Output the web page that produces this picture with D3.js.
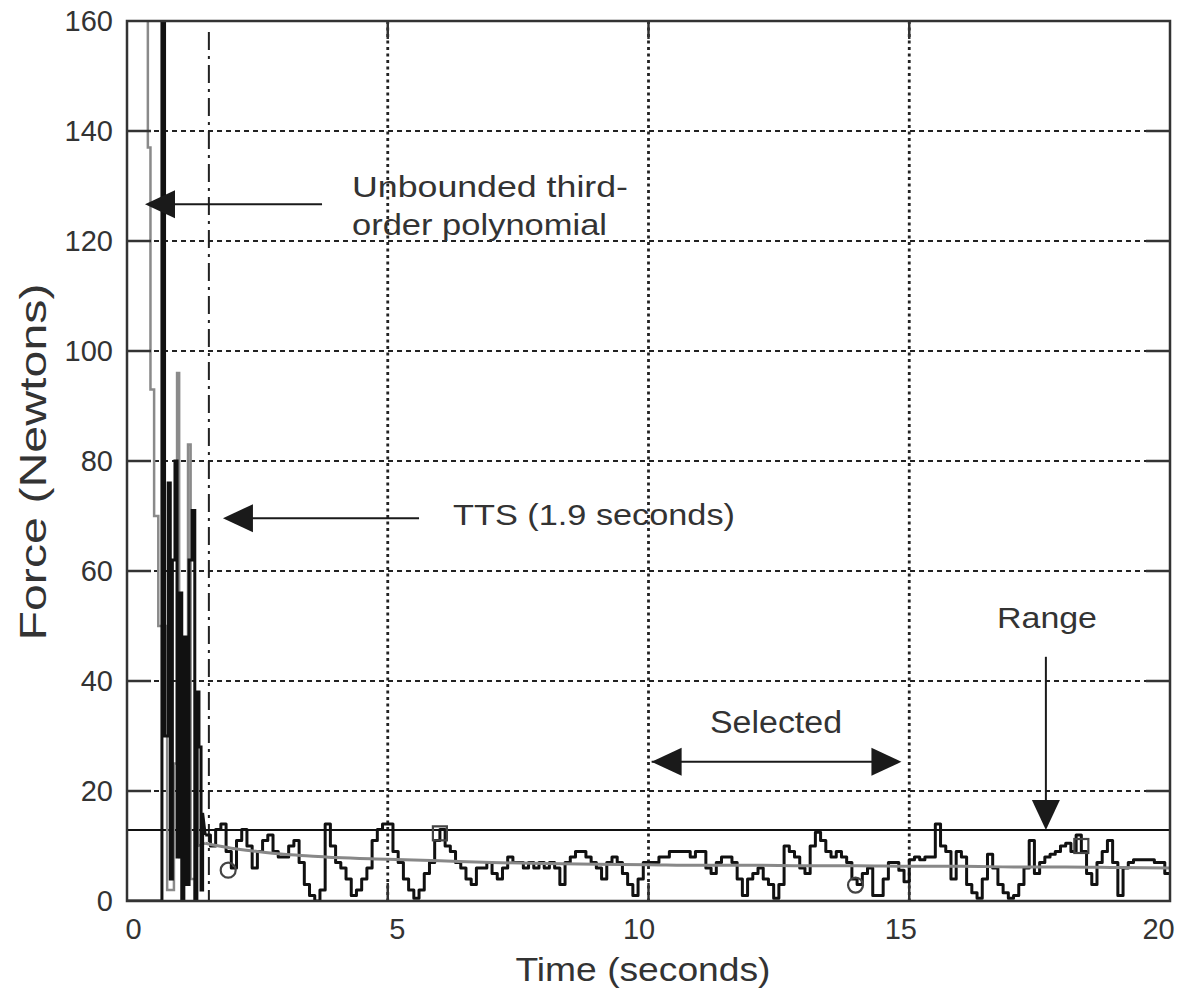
<!DOCTYPE html>
<html><head><meta charset="utf-8">
<script src="https://cdn.jsdelivr.net/npm/d3@7"></script>
<style>
html,body{margin:0;padding:0;background:#fff;}
text{font-family:"Liberation Sans",Arial,sans-serif;fill:#333;}
</style></head>
<body><svg id="chart" width="1185" height="997"></svg>
<script>
// ---------- data ----------
const xTicks = [0, 5, 10, 15, 20];
const yTicks = [0, 20, 40, 60, 80, 100, 120, 140, 160];

// early transient, black trace (s, N)
const earlyBlackTime  = [0, 0.62, 0.67, 0.67, 0.72, 0.72, 0.79, 0.79, 0.83, 0.83, 0.87, 0.87, 0.92, 0.92, 0.96, 0.96, 1.00, 1.00, 1.05, 1.05, 1.09, 1.09, 1.14, 1.14, 1.19, 1.19, 1.25, 1.25, 1.30, 1.30, 1.34, 1.34, 1.38, 1.38, 1.42, 1.42, 1.45, 1.45, 1.5];
const earlyBlackForce = [0, 0, 0, 175, 175, 30, 30, 76, 76, 4, 4, 62, 62, 80, 80, 8, 8, 56, 56, 0, 0, 48, 48, 3, 3, 62, 62, 71, 71, 0, 0, 38, 38, 28, 28, 2, 2, 16, 12];

// early transient, grey trace (s, N)
const earlyGreyTime  = [0.40, 0.40, 0.45, 0.45, 0.52, 0.52, 0.60, 0.60, 0.77, 0.77, 0.90, 0.90, 0.96, 0.96, 1.00, 1.00, 1.12, 1.12, 1.17, 1.17, 1.22, 1.22, 1.32, 1.32, 1.36, 1.36, 1.5];
const earlyGreyForce = [175, 137, 137, 93, 93, 70, 70, 50, 50, 2, 2, 25, 25, 96, 96, 8, 8, 30, 30, 83, 83, 4, 4, 31, 31, 10, 10.5];

// measured force after the transient, sampled every 0.1 s from 1.5 s to 20.0 s
const sampleStart = 1.5, sampleStep = 0.1;
const force = [
  12,10,13,14,9,
  6,11,13,10,6,9,11,12,9,8,
  8,10,11,7,3,1,0,2,14,10,
  7,6,4,1,2,4,6,11,13,14,
  14,9,7,4,2,0.5,2,5,7,11,
  13,10,9,7,6,4,3,6,6,7,
  5,4,6,8,7,7,6,7,6,7,
  6,7,6,3,7,8,9,9,8,7,
  6,4,7,8,7,5,3,1,4,7,
  7,7,8,8,9,9,9,9,8,9,
  9,6,5,7,8,8,7,4,1,4,
  5,6,4,3,0.5,3,10,9,8,6,
  5,10,12.5,11,9,8,9,8,7,4,
  3,5,6,1,1,4,7,7,5.6,3.5,
  7.5,8,7.5,8,8,14,10,9,4,9,
  8,3,1.5,0.5,4,8.5,6,3,1.5,0.5,
  1,3,6,11,5,7,8,8.5,9,10,
  10.5,9,12,9,5,3,7,9,11,7,
  1,6,7,7.5,7.5,7.5,7.5,7,7,5,
  5
];

// fitted (polynomial) curve, grey
const fitTime  = [1.5, 2, 2.5, 3, 3.5, 4, 5, 6, 7, 8, 9, 10, 11, 12, 13, 14, 15, 16, 17, 18, 19, 20];
const fitForce = [10.5, 9.6, 9.0, 8.5, 8.2, 7.9, 7.6, 7.3, 7.0, 6.8, 6.7, 6.6, 6.5, 6.5, 6.4, 6.4, 6.3, 6.3, 6.2, 6.2, 6.1, 6.0];

const rangeLevel = 12.9;   // horizontal range line
const ttsTime = 1.57;      // dash-dot TTS marker

const circleMarks = [[1.94, 5.6], [13.97, 2.9]];
const squareMarks = [[6.0, 12.3], [18.3, 10.0]];

// annotations: [x, y] in data units
const arrowPoly  = {from: [3.74, 126.7], to: [0.345, 126.7]};
const arrowTTS   = {from: [5.6, 69.6],   to: [1.84, 69.6]};
const arrowSel   = {a: [10.06, 25.3], b: [14.85, 25.3]};
const arrowRange = {from: [17.62, 44.4], to: [17.62, 12.9]};

// ---------- drawing ----------
const svg = d3.select("#chart");
const L = 127, R = 1170, T = 21, B = 901;
const x = d3.scaleLinear().domain([0, 20]).range([L, R]);
const y = d3.scaleLinear().domain([0, 160]).range([B, T]);

svg.append("defs").append("clipPath").attr("id", "clip")
  .append("rect").attr("x", L).attr("y", T).attr("width", R - L).attr("height", B - T);

const gridCol = "#222";
// horizontal grid
svg.append("g").selectAll("line").data(yTicks.slice(1, -1)).join("line")
  .attr("x1", L).attr("x2", R).attr("y1", d => y(d)).attr("y2", d => y(d))
  .attr("stroke", gridCol).attr("stroke-width", 2.2).attr("stroke-dasharray", "5,4");
// vertical grid
svg.append("g").selectAll("line").data(xTicks.slice(1, -1)).join("line")
  .attr("x1", d => x(d)).attr("x2", d => x(d)).attr("y1", T).attr("y2", B)
  .attr("stroke", gridCol).attr("stroke-width", 2.8).attr("stroke-dasharray", "3,3.5");

const plot = svg.append("g").attr("clip-path", "url(#clip)");

// TTS dash-dot line
plot.append("line").attr("x1", x(ttsTime)).attr("x2", x(ttsTime)).attr("y1", y(158)).attr("y2", B)
  .attr("stroke", "#222").attr("stroke-width", 2).attr("stroke-dasharray", "18,6,3,6");

// range line
plot.append("line").attr("x1", L).attr("x2", R).attr("y1", y(rangeLevel)).attr("y2", y(rangeLevel))
  .attr("stroke", "#111").attr("stroke-width", 2);

// grey early trace
const lineXY = d3.line().x(d => x(d[0])).y(d => y(d[1]));
plot.append("path").datum(earlyGreyTime.map((t, i) => [t, earlyGreyForce[i]]))
  .attr("d", lineXY).attr("fill", "none").attr("stroke", "#8a8a8a").attr("stroke-width", 2.5);

// black traces
plot.append("path").datum(earlyBlackTime.map((t, i) => [t, earlyBlackForce[i]]))
  .attr("d", lineXY).attr("fill", "none").attr("stroke", "#111").attr("stroke-width", 3);

const lateData = force.map((v, i) => [sampleStart + i * sampleStep, v]);
plot.append("path").datum(lateData)
  .attr("d", d3.line().x(d => x(d[0])).y(d => y(d[1])).curve(d3.curveStepAfter))
  .attr("fill", "none").attr("stroke", "#111").attr("stroke-width", 3).attr("stroke-linejoin", "round");

// grey fit curve
plot.append("path").datum(fitTime.map((t, i) => [t, fitForce[i]]))
  .attr("d", d3.line().x(d => x(d[0])).y(d => y(d[1])).curve(d3.curveMonotoneX))
  .attr("fill", "none").attr("stroke", "#888").attr("stroke-width", 3);

// markers
plot.selectAll("circle.m").data(circleMarks).join("circle")
  .attr("cx", d => x(d[0])).attr("cy", d => y(d[1])).attr("r", 7.5)
  .attr("fill", "none").attr("stroke", "#444").attr("stroke-width", 2.2);
plot.selectAll("rect.m").data(squareMarks).join("rect")
  .attr("x", d => x(d[0]) - 7).attr("y", d => y(d[1]) - 7).attr("width", 14).attr("height", 14)
  .attr("fill", "none").attr("stroke", "#444").attr("stroke-width", 2.2);

// frame
svg.append("rect").attr("x", L).attr("y", T).attr("width", R - L).attr("height", B - T)
  .attr("fill", "none").attr("stroke", "#333").attr("stroke-width", 2.5);

// inner ticks
const tk = svg.append("g").attr("stroke", "#333").attr("stroke-width", 2.5);
yTicks.slice(1, -1).forEach(v => {
  tk.append("line").attr("x1", L).attr("x2", L + 24).attr("y1", y(v)).attr("y2", y(v));
  tk.append("line").attr("x1", R).attr("x2", R - 24).attr("y1", y(v)).attr("y2", y(v));
});
xTicks.slice(1, -1).forEach(v => {
  tk.append("line").attr("x1", x(v)).attr("x2", x(v)).attr("y1", B).attr("y2", B - 18);
  tk.append("line").attr("x1", x(v)).attr("x2", x(v)).attr("y1", T).attr("y2", T + 18);
});

// axes labels
const xLabelShift = [6, 9, -10, -9, -12];
const ax = svg.append("g").attr("transform", `translate(0,${B})`)
  .call(d3.axisBottom(x).tickValues(xTicks).tickSize(0).tickPadding(17).tickFormat(d3.format("d")));
const ay = svg.append("g").attr("transform", `translate(${L},0)`)
  .call(d3.axisLeft(y).tickValues(yTicks).tickSize(0).tickPadding(14).tickFormat(d3.format("d")));
[ax, ay].forEach(g => {
  g.select(".domain").remove();
  g.selectAll("text").attr("font-size", 29).attr("font-family", "Liberation Sans, Arial, sans-serif").attr("fill", "#333");
});
ax.selectAll("text").attr("dx", (d, i) => xLabelShift[i]);

svg.append("text").attr("x", 643).attr("y", 981).attr("text-anchor", "middle")
  .attr("font-size", 34).attr("textLength", 255).attr("lengthAdjust", "spacingAndGlyphs")
  .text("Time (seconds)");
svg.append("text").attr("transform", "translate(46,462) rotate(-90)").attr("text-anchor", "middle")
  .attr("font-size", 36).attr("textLength", 357).attr("lengthAdjust", "spacingAndGlyphs")
  .text("Force (Newtons)");

// annotation arrows
const arrowCol = "#1a1a1a";
function head(tip, dir) { // dir: unit vector pointing toward tip
  const len = 30, half = 14;
  const bx = tip[0] - dir[0] * len, by = tip[1] - dir[1] * len;
  const px = -dir[1], py = dir[0];
  return `M${tip[0]},${tip[1]}L${bx + px * half},${by + py * half}L${bx - px * half},${by - py * half}Z`;
}
function arrow(from, to, double) {
  const p0 = [x(from[0]), y(from[1])], p1 = [x(to[0]), y(to[1])];
  const dx = p1[0] - p0[0], dy = p1[1] - p0[1], n = Math.hypot(dx, dy);
  const u = [dx / n, dy / n];
  svg.append("line").attr("x1", p0[0]).attr("y1", p0[1]).attr("x2", p1[0] - u[0] * 20).attr("y2", p1[1] - u[1] * 20)
    .attr("stroke", arrowCol).attr("stroke-width", 2);
  svg.append("path").attr("d", head(p1, u)).attr("fill", arrowCol);
  if (double) svg.append("path").attr("d", head(p0, [-u[0], -u[1]])).attr("fill", arrowCol);
}
arrow(arrowPoly.from, arrowPoly.to);
arrow(arrowTTS.from, arrowTTS.to);
arrow(arrowSel.a, arrowSel.b, true);
arrow(arrowRange.from, arrowRange.to);

function label(txt, xx, yy, w, fs) {
  svg.append("text").attr("x", xx).attr("y", yy).attr("font-size", fs)
    .attr("textLength", w).attr("lengthAdjust", "spacingAndGlyphs").text(txt);
}
label("Unbounded  third-", 352, 197, 276, 30);
label("order polynomial", 352, 235, 255, 30);
label("TTS (1.9 seconds)", 453, 525, 282, 30);
label("Selected", 710, 733, 132, 31);
label("Range", 997, 628, 100, 30);
</script></body></html>
